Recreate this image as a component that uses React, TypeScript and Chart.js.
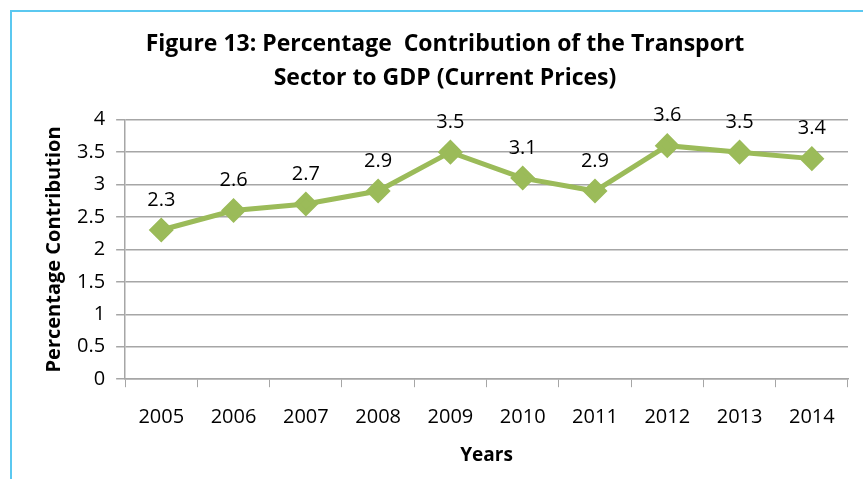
import React, { useEffect, useRef } from "react";
import { Chart, registerables } from "chart.js";

Chart.register(...registerables);

const years = ["2005", "2006", "2007", "2008", "2009", "2010", "2011", "2012", "2013", "2014"];
const contribution = [2.3, 2.6, 2.7, 2.9, 3.5, 3.1, 2.9, 3.6, 3.5, 3.4];
const titleLines = ["Figure 13: Percentage  Contribution of the Transport", "Sector to GDP (Current Prices)"];
const yTitle = "Percentage Contribution";
const xTitle = "Years";

const labelPlugin = {
  id: "pointLabels",
  afterDatasetsDraw(chart: any) {
    const ctx = chart.ctx;
    const meta = chart.getDatasetMeta(0);
    const data = chart.data.datasets[0].data;
    ctx.save();
    ctx.font = "20px 'Open Sans'";
    ctx.fillStyle = "#000";
    ctx.textAlign = "center";
    ctx.textBaseline = "middle";
    meta.data.forEach((pt: any, i: number) => {
      ctx.fillText(String(data[i]), pt.x, pt.y - 30);
    });
    ctx.restore();
  },
};

export default function App() {
  const ref = useRef<HTMLCanvasElement>(null);
  useEffect(() => {
    if (!ref.current) return;
    const chart = new Chart(ref.current, {
      type: "line",
      data: {
        labels: years,
        datasets: [
          {
            data: contribution,
            borderColor: "#9BBB59",
            backgroundColor: "#9BBB59",
            borderWidth: 5,
            pointStyle: "rectRot",
            pointRadius: 9,
            pointHoverRadius: 9,
            tension: 0,
          },
        ],
      },
      options: {
        responsive: false,
        animation: false,
        layout: { padding: { left: 42, right: 15, top: 0, bottom: 12 } },
        plugins: {
          legend: { display: false },
          tooltip: { enabled: false },
          title: {
            display: true,
            text: titleLines,
            color: "#000",
            font: { family: "'Open Sans'", size: 23, weight: "bold", lineHeight: 1.45 },
            padding: { top: 28, bottom: 25 },
          },
        },
        scales: {
          x: {
            offset: true,
            grid: { display: true, drawOnChartArea: false, drawTicks: true, tickLength: 8, color: "#A6A6A6", offset: true },
            border: { color: "#A6A6A6", width: 1.5 },
            ticks: { color: "#000", font: { family: "'Open Sans'", size: 20 }, padding: 18, maxRotation: 0 },
            title: {
              display: true,
              text: xTitle,
              color: "#000",
              font: { family: "'Open Sans'", size: 19, weight: "bold" },
              padding: { top: -3, bottom: 0 },
            },
          },
          y: {
            min: 0,
            max: 4,
            ticks: {
              stepSize: 0.5,
              color: "#000",
              font: { family: "'Open Sans'", size: 20 },
              padding: 11,
              callback: (v: any) => String(Number(v)),
            },
            grid: { color: "#A6A6A6", lineWidth: 1.5, tickLength: 9 },
            border: { color: "#A6A6A6", width: 1.5 },
            title: {
              display: true,
              text: yTitle,
              color: "#000",
              font: { family: "'Open Sans'", size: 20, weight: "bold" },
              padding: { top: 0, bottom: 0 },
            },
          },
        },
      },
      plugins: [labelPlugin],
    });
    return () => chart.destroy();
  }, []);

  return (
    <div style={{ position: "fixed", left: 0, top: 0, width: 863, height: 479, background: "#fff" }}>
      <div
        style={{
          position: "absolute",
          left: 10,
          top: 10,
          right: -10,
          bottom: -10,
          borderTop: "2px solid #5BC8F0",
          borderLeft: "2px solid #5BC8F0",
        }}
      />
      <canvas ref={ref} width={863} height={479} style={{ position: "absolute", left: 0, top: 0 }} />
    </div>
  );
}
